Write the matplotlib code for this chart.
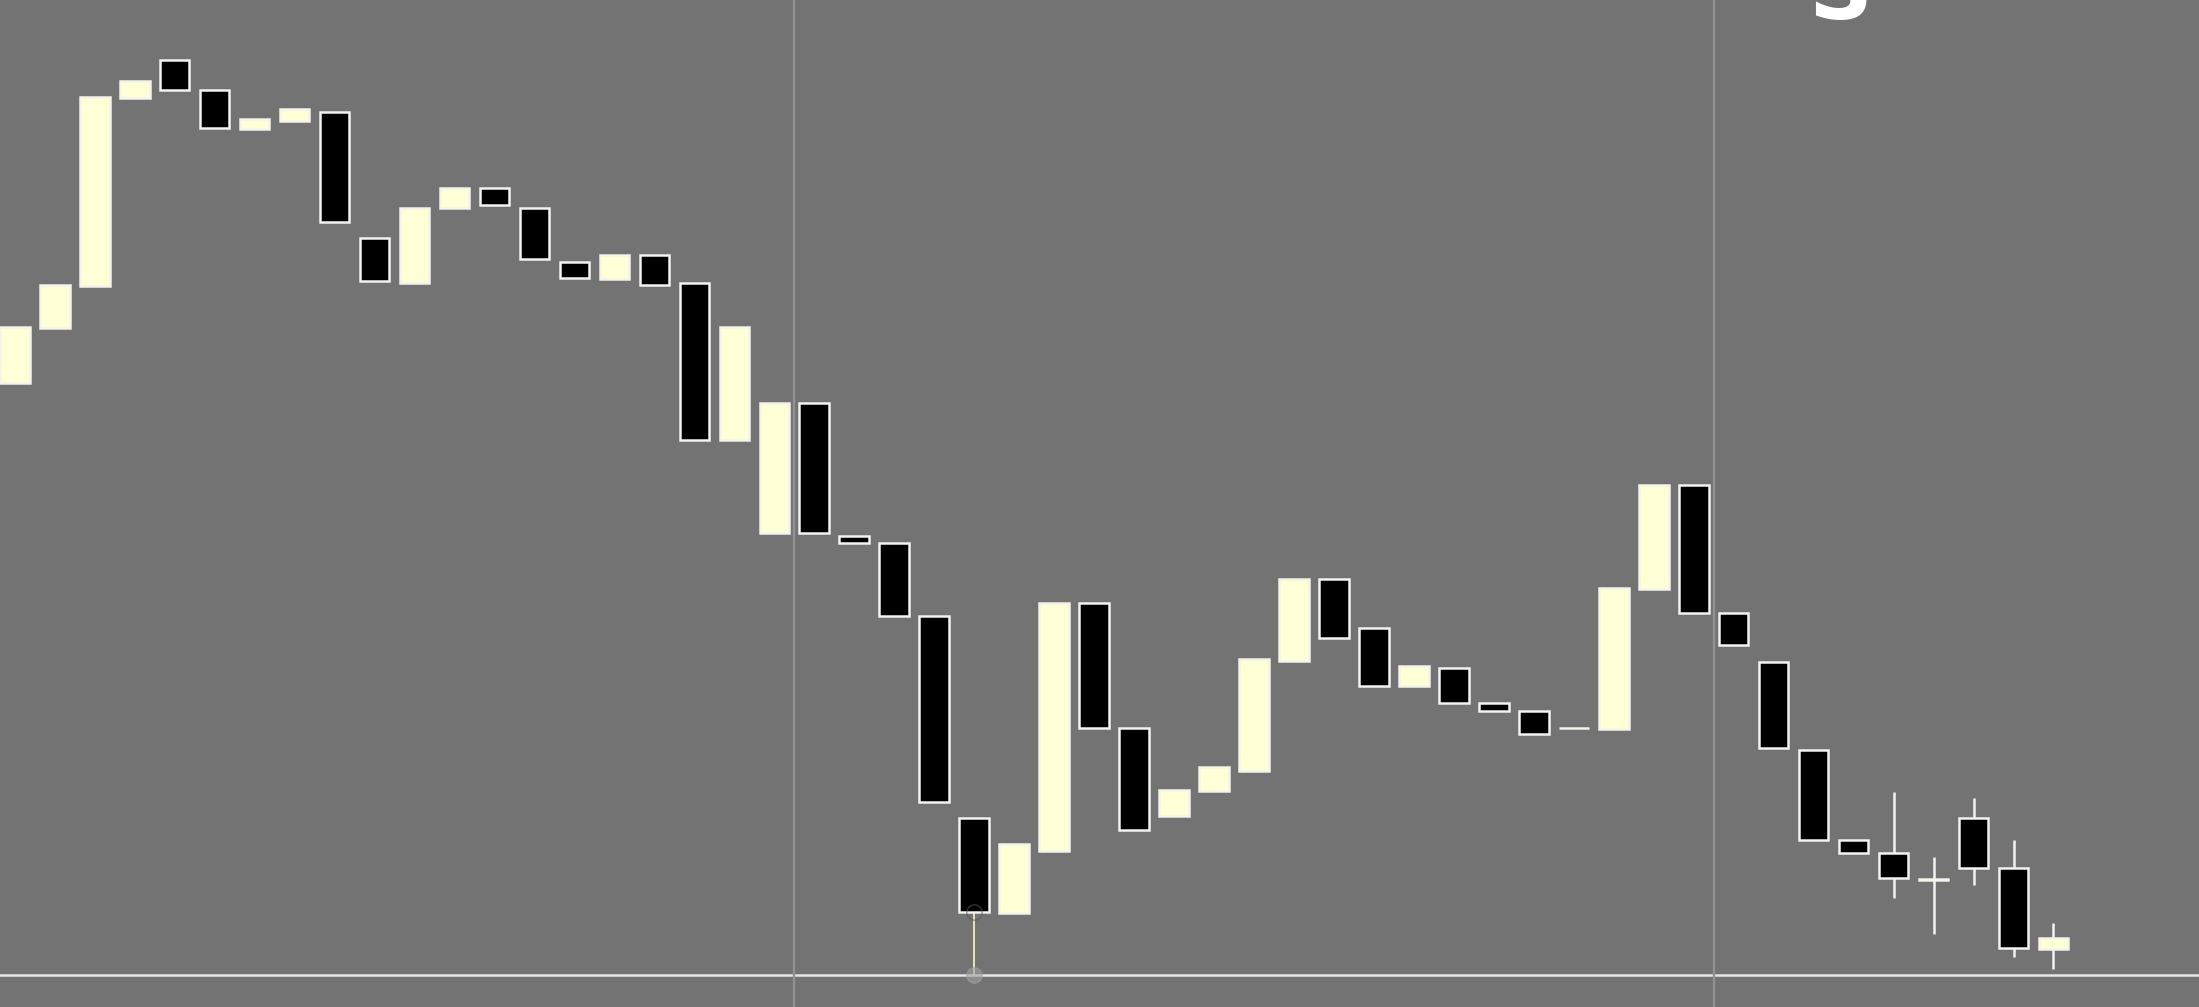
import matplotlib
matplotlib.use("Agg")
import matplotlib.pyplot as plt
import numpy as np

# OHLC values (price units)
opens = [122.25, 124.2, 125.7, 132.4, 133.75, 132.7, 131.3, 131.6, 131.9, 127.4,
         125.8, 128.5, 129.2, 128.5, 126.55, 125.95, 126.8, 125.8, 120.2, 116.9,
         121.55, 116.8, 116.55, 113.95, 106.75, 103.35, 105.55, 114.4, 109.95, 106.8,
         107.7, 108.4, 112.35, 115.25, 113.5, 111.45, 112.1, 110.85, 110.55, 109.95,
         109.9, 114.9, 118.6, 114.05, 112.3, 109.15, 105.95, 105.5, 104.52, 106.75,
         104.95, 102.05]
closes = [124.25, 125.75, 132.45, 133.0, 132.7, 131.35, 131.65, 132.0, 128.0, 125.9,
          128.5, 129.2, 128.6, 126.65, 126.0, 126.8, 125.75, 120.2, 124.25, 121.55,
          116.9, 116.55, 113.95, 107.3, 103.4, 105.8, 114.4, 109.95, 106.3, 107.75,
          108.55, 112.4, 115.25, 113.15, 111.45, 112.15, 110.85, 110.55, 109.75, 109.95,
          114.95, 118.6, 114.05, 112.9, 109.25, 105.95, 105.5, 104.6, 104.58, 104.95,
          102.1, 102.45]
highs = [max(o, c) for o, c in zip(opens, closes)]
lows = [min(o, c) for o, c in zip(opens, closes)]
# candles with visible wicks
highs[47], lows[47] = 107.65, 103.9
highs[48], lows[48] = 105.35, 102.6
highs[49], lows[49] = 107.45, 104.35
highs[50], lows[50] = 105.95, 101.8
highs[51], lows[51] = 103.0, 101.35
lows[24] = 101.15  # highlighted wick

price_line = 101.15
separators = [19.5, 42.5]

BG = "#737373"
CREAM = "#FFFFD6"

fig = plt.figure(figsize=(21.99, 10.07), dpi=100, facecolor=BG)
ax = fig.add_axes([0, 0, 1, 1])
ax.set_facecolor(BG)
ax.set_xlim(-0.37, 54.64)
ax.set_ylim(100, 135.9)
for s in ax.spines.values():
    s.set_visible(False)
ax.set_xticks([])
ax.set_yticks([])

x = np.arange(len(opens))

# price line
ax.axhline(price_line, color="#e6e6e6", lw=1.8, zorder=1)
# session separators
for sx in separators:
    ax.axvline(sx, color="#929292", lw=1.7, zorder=2)

# wicks
for i in range(len(opens)):
    if highs[i] > max(opens[i], closes[i]) or lows[i] < min(opens[i], closes[i]):
        col = "#f2f2f2"
        lw = 1.8
        if i == 24:
            col = "#f0f0b8"
            lw = 1.3
        ax.plot([x[i], x[i]], [lows[i], highs[i]], color=col, lw=lw, zorder=3,
                solid_capstyle="butt")

# highlight markers on candle 25
ax.plot([x[24]], [lows[24]], "o", ms=11, color="#a0a0a0", alpha=0.6, zorder=4)
ax.plot([x[24]], [closes[24]], "o", ms=11, mfc="none", mec="#555555", alpha=0.6, zorder=6)

up = [c >= o for o, c in zip(opens, closes)]
colors = [CREAM if u else "black" for u in up]
edges = ["#f4f4ea" if u else "#f2f2f2" for u in up]
heights = [c - o for o, c in zip(opens, closes)]
ax.bar(x, heights, bottom=opens, width=0.74, color=colors, edgecolor=edges,
       linewidth=1.8, zorder=5)

fig.text(0.837, 0.981, "S", color="white", fontsize=64, fontweight="bold",
         ha="center", va="baseline")

fig.savefig("out.png", dpi=100, facecolor=BG)
